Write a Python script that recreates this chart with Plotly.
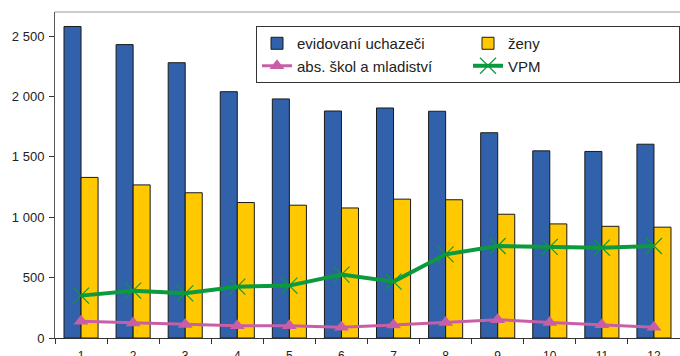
import plotly.graph_objects as go

months = [str(i) for i in range(1, 13)]
evidovani = [2580, 2430, 2280, 2040, 1980, 1880, 1905, 1878, 1700, 1550, 1545, 1605]
zeny = [1330, 1268, 1203, 1122, 1100, 1077, 1150, 1145, 1025, 945, 925, 918]
absolventi = [138, 124, 112, 102, 102, 88, 108, 129, 152, 129, 110, 88]
vpm = [351, 392, 370, 425, 434, 525, 467, 693, 762, 755, 748, 762]

font = "Liberation Sans, Arial, sans-serif"

fig = go.Figure()
fig.add_trace(go.Bar(x=months, y=evidovani, name="evidovaní uchazeči",
                     marker=dict(color="#3061AA", line=dict(color="#1a1a1a", width=1))))
fig.add_trace(go.Bar(x=months, y=zeny, name="ženy",
                     marker=dict(color="#FFC800", line=dict(color="#1a1a1a", width=1))))
fig.add_trace(go.Scatter(x=months, y=absolventi, name="abs. škol a mladiství", mode="lines+markers",
                         line=dict(color="#C85FA6", width=3),
                         marker=dict(symbol="triangle-up", size=13, color="#C85FA6")))
fig.add_trace(go.Scatter(x=months, y=vpm, name="VPM", mode="lines+markers",
                         line=dict(color="#0B9A3E", width=4),
                         marker=dict(symbol="x-thin", size=16, line=dict(color="#0B9A3E", width=1.2))))

fig.update_layout(
    width=680, height=356,
    margin=dict(l=55, r=0, t=12, b=18, autoexpand=False),
    paper_bgcolor="white", plot_bgcolor="white",
    font=dict(family=font, size=13, color="#222"),
    separators=", ",
    barmode="group", bargap=0.346, bargroupgap=0,
    showlegend=True,
    legend=dict(orientation="h", x=0.3216, y=0.957, xanchor="left", yanchor="top",
                bordercolor="#333", borderwidth=1, bgcolor="white",
                entrywidth=166, entrywidthmode="pixels",
                font=dict(family=font, size=15, color="#222"),
                tracegroupgap=0, itemwidth=30),
    xaxis=dict(type="category", range=[-0.5, 11.5], tickson="boundaries", ticks="outside",
               ticklen=5, tickcolor="#333", showline=True, linecolor="#333", linewidth=1,
               showgrid=False, tickfont=dict(size=12), automargin=False,
               ticklabelstandoff=7),
    yaxis=dict(range=[0, 2700], dtick=500, ticks="outside", ticklen=5, tickcolor="#333",
               showline=True, linecolor="#555", linewidth=1, showgrid=False,
               separatethousands=True, zeroline=False, tickfont=dict(size=13),
               automargin=False, ticklabelstandoff=2),
    shapes=[dict(type="line", xref="paper", yref="paper", x0=0, x1=1, y0=1, y1=1,
                 line=dict(color="#999", width=1))],
)

fig.write_html("out.html", config={"displayModeBar": False},
               post_script="document.body.style.margin='0';document.body.style.overflow='hidden';")
